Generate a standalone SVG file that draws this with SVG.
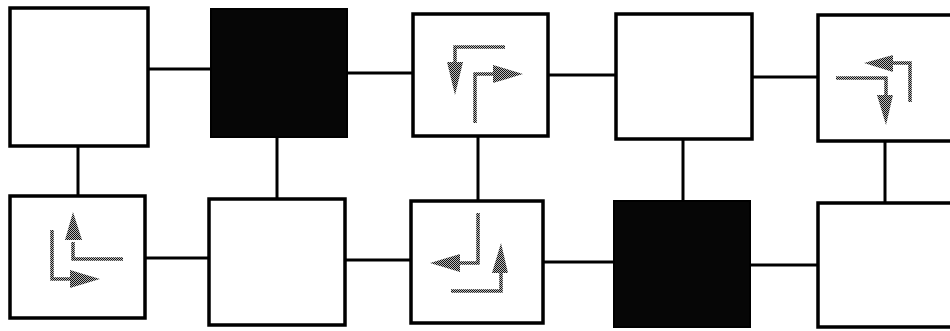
<svg xmlns="http://www.w3.org/2000/svg" width="950" height="331" viewBox="0 0 950 331">
<defs>
<pattern id="dots" width="2" height="2" patternUnits="userSpaceOnUse">
<rect width="2" height="2" fill="#bbbbbb"/>
<rect width="1" height="1" fill="#111"/>
<rect x="1" y="1" width="1" height="1" fill="#111"/>
</pattern>
</defs>
<style>
.box{fill:#fff;stroke:#000;stroke-width:3.5}
.dark{fill:#060606;stroke:#000;stroke-width:2}
.con{stroke:#000;stroke-width:3;fill:none}
.shaft{fill:none;stroke:url(#dots);stroke-width:3.5}
.head{fill:url(#dots);stroke:none}
</style>
<rect width="950" height="331" fill="#fff"/>
<g id="connectors">
<line class="con" x1="148" y1="69" x2="211" y2="69"/>
<line class="con" x1="347" y1="73" x2="413" y2="73"/>
<line class="con" x1="548" y1="75" x2="616" y2="75"/>
<line class="con" x1="752" y1="77" x2="818" y2="77"/>
<line class="con" x1="78" y1="146" x2="78" y2="196"/>
<line class="con" x1="277" y1="137" x2="277" y2="199"/>
<line class="con" x1="478" y1="136" x2="478" y2="201"/>
<line class="con" x1="683" y1="139" x2="683" y2="201"/>
<line class="con" x1="885" y1="141" x2="885" y2="203"/>
<line class="con" x1="145" y1="258" x2="209" y2="258"/>
<line class="con" x1="345" y1="260" x2="411" y2="260"/>
<line class="con" x1="543" y1="262" x2="614" y2="262"/>
<line class="con" x1="750" y1="265" x2="818" y2="265"/>
</g>
<g id="n1"><rect class="box" x="10" y="8" width="138" height="138"/></g>
<g id="n2"><rect class="dark" x="211" y="9" width="136" height="128"/></g>
<g id="n3"><rect class="box" x="413" y="14" width="135" height="122"/>
<path class="shaft" d="M505 47H455V70"/>
<polygon class="head" points="447,62 463,62 455,95"/>
<path class="shaft" d="M475 123V74H495"/>
<polygon class="head" points="493,65 493,83 523,74"/>
</g>
<g id="n4"><rect class="box" x="616" y="14" width="136" height="125"/></g>
<g id="n5"><rect class="box" x="818" y="15" width="140" height="126"/>
<path class="shaft" d="M910 102V63H890"/>
<polygon class="head" points="893,55 893,72 864,63"/>
<path class="shaft" d="M836 78H886V98"/>
<polygon class="head" points="877,95 893,95 886,125"/>
</g>
<g id="n6"><rect class="box" x="10" y="196" width="135" height="122"/>
<path class="shaft" d="M123 259H73V242"/>
<polygon class="head" points="65,240 82,240 73,212"/>
<path class="shaft" d="M52 230V279H72"/>
<polygon class="head" points="70,270 70,288 100,279"/>
</g>
<g id="n7"><rect class="box" x="209" y="199" width="136" height="126"/></g>
<g id="n8"><rect class="box" x="411" y="201" width="132" height="122"/>
<path class="shaft" d="M478 213V263H458"/>
<polygon class="head" points="460,254 460,272 430,263"/>
<path class="shaft" d="M451 291H501V271"/>
<polygon class="head" points="492,273 508,273 501,243"/>
</g>
<g id="n9"><rect class="dark" x="614" y="201" width="136" height="126"/></g>
<g id="n10"><rect class="box" x="818" y="203" width="140" height="124"/></g>
</svg>
